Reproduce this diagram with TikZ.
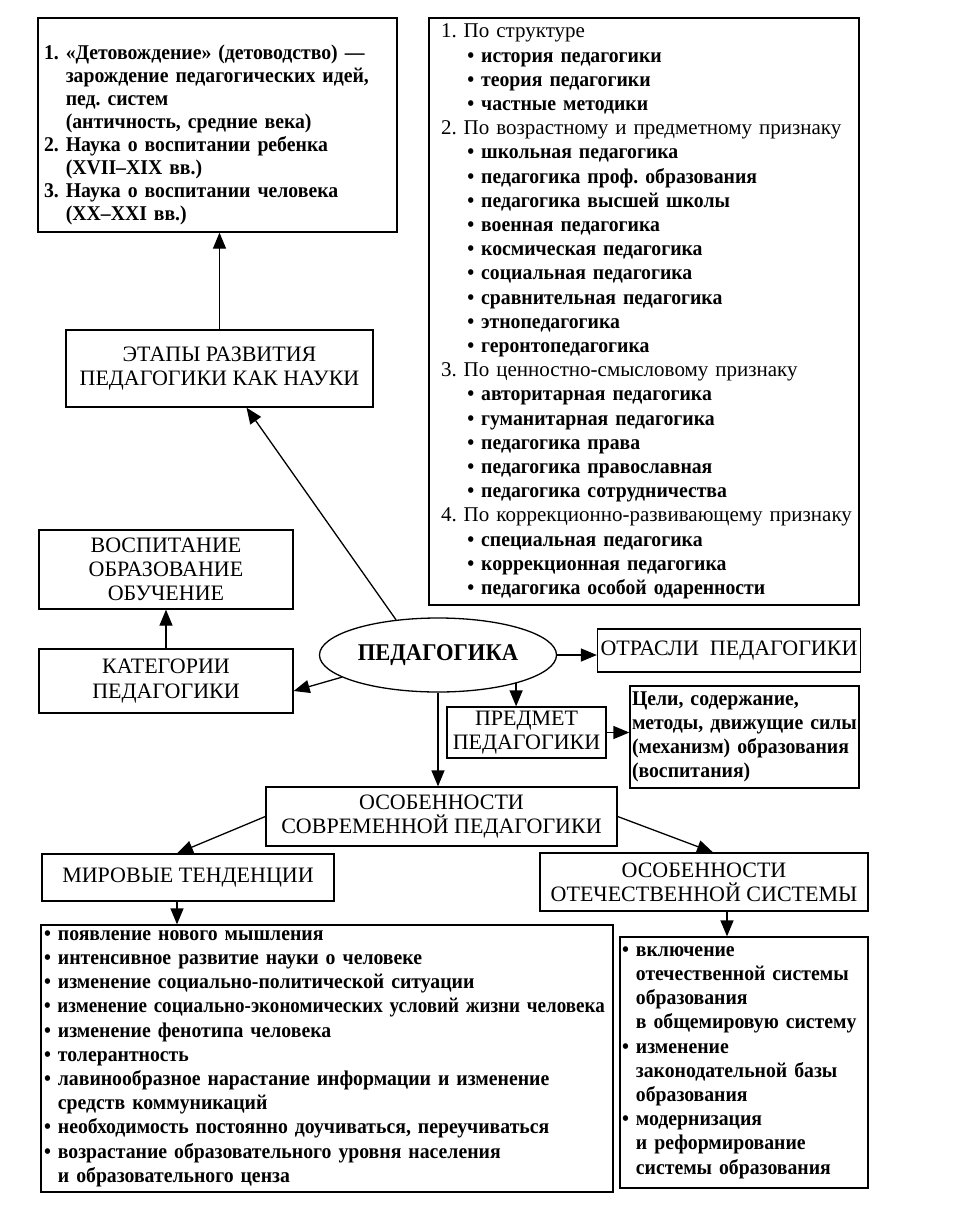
\documentclass[tikz,border=0pt]{standalone}
\usepackage{graphicx}
\usepackage{fontspec}
\setmainfont{Liberation Serif}[BoldFeatures={FakeStretch=0.94}]
\usetikzlibrary{shapes.geometric, arrows.meta}

\newcommand{\fsize}{\fontsize{21}{24.2}\selectfont\frenchspacing}
\newcommand{\headsize}{\fontsize{22}{24.2}\selectfont\frenchspacing}
\newcommand{\subpt}{\hspace*{1.25em}\textbullet\ }
\newcommand{\dotpt}{\textbullet\ }
\newcommand{\contpt}{\phantom{\textbullet\ }}
\newcommand{\contnum}{\phantom{1.\ }}

\tikzset{
	headbox/.style={draw, line width=1.3pt, inner sep=3pt, align=center, font=\headsize},
	listbox/.style={draw, line width=1.3pt, inner ysep=3pt, align=left, font=\fsize},
	link/.style={line width=1.3pt, -{Triangle[length=16pt,width=13pt]}},
}

\begin{document}
\begin{tikzpicture}[x=1pt, y={(0pt,-1pt)}]
	\useasboundingbox (0,0) rectangle (953,1213);
	% upper part
	\node (stages) at (217.5,125) [listbox, inner xsep=6pt, minimum width=359pt, minimum height=214pt, text width=347pt, font=\fontsize{21}{23}\selectfont\frenchspacing\bfseries] {%
		\rule{0pt}{34pt}1. «Детовождение» (детоводство) —\\
		\contnum зарождение педагогических идей,\\
		\contnum пед. систем\\
		\contnum (античность, средние века)\\
		2. Наука о воспитании ребенка\\
		\contnum (XVII–XIX вв.)\\
		3. Наука о воспитании человека\\
		\contnum (XX–XXI вв.)};
	\node (branches) at (644,311.5) [listbox, inner xsep=12pt, minimum width=430pt, minimum height=587pt, text width=406pt] {%
		1. По структуре\\
		\textbf{\subpt история педагогики}\\
		\textbf{\subpt теория педагогики}\\
		\textbf{\subpt частные методики}\\
		2. По возрастному и предметному признаку\\
		\textbf{\subpt школьная педагогика}\\
		\textbf{\subpt педагогика проф. образования}\\
		\textbf{\subpt педагогика высшей школы}\\
		\textbf{\subpt военная педагогика}\\
		\textbf{\subpt космическая педагогика}\\
		\textbf{\subpt социальная педагогика}\\
		\textbf{\subpt сравнительная педагогика}\\
		\textbf{\subpt этнопедагогика}\\
		\textbf{\subpt геронтопедагогика}\\
		3. По ценностно-смысловому признаку\\
		\textbf{\subpt авторитарная педагогика}\\
		\textbf{\subpt гуманитарная педагогика}\\
		\textbf{\subpt педагогика права}\\
		\textbf{\subpt педагогика православная}\\
		\textbf{\subpt педагогика сотрудничества}\\
		\mbox{4. По коррекционно-развивающему признаку}\\
		\textbf{\subpt специальная педагогика}\\
		\textbf{\subpt коррекционная педагогика}\\
		\textbf{\subpt педагогика особой одаренности}};
	\node (etapy) at (219.5,368.5) [headbox, minimum width=307pt, minimum height=77pt] {ЭТАПЫ РАЗВИТИЯ\\ПЕДАГОГИКИ КАК НАУКИ};
	\node (vosp) at (166,569.5) [headbox, minimum width=254pt, minimum height=79pt] {ВОСПИТАНИЕ\\ОБРАЗОВАНИЕ\\ОБУЧЕНИЕ};
	\node (kateg) at (166,681) [headbox, minimum width=254pt, minimum height=64pt] {КАТЕГОРИИ\\ПЕДАГОГИКИ};
	% centre
	\node (ped) at (438,655) [ellipse, draw, line width=1.3pt, inner sep=0pt, minimum width=237pt, minimum height=74pt, font=\fontsize{24}{26}\selectfont\bfseries] {ПЕДАГОГИКА};
	\node (otrasli) at (729,650.5) [headbox, minimum width=258pt, minimum height=43pt] {ОТРАСЛИ\ \ ПЕДАГОГИКИ};
	\node (predmet) at (526.5,732.5) [headbox, minimum width=159pt, minimum height=51pt] {ПРЕДМЕТ\\ПЕДАГОГИКИ};
	\node (goals) at (744.5,737) [listbox, inner xsep=2pt, minimum width=229pt, minimum height=102pt, text width=225pt, font=\fsize\bfseries] {%
		Цели, содержание,\\
		методы, движущие силы\\
		(механизм) образования\\
		(воспитания)};
	% lower part
	\node (osob) at (441.5,816.5) [headbox, minimum width=351pt, minimum height=59pt] {ОСОБЕННОСТИ\\СОВРЕМЕННОЙ ПЕДАГОГИКИ};
	\node (mir) at (188,877.5) [headbox, minimum width=292pt, minimum height=47pt] {МИРОВЫЕ ТЕНДЕНЦИИ};
	\node (otech) at (704,882) [headbox, minimum width=328pt, minimum height=58pt] {ОСОБЕННОСТИ\\ОТЕЧЕСТВЕННОЙ СИСТЕМЫ};
	\node (world) at (327,1058.5) [listbox, inner xsep=3pt, minimum width=572pt, minimum height=267pt, text width=566pt, font=\fsize\bfseries] {%
		\dotpt появление нового мышления\\
		\dotpt интенсивное развитие науки о человеке\\
		\dotpt изменение социально-политической ситуации\\
		\scalebox{0.965}[1]{\dotpt изменение социально-экономических условий жизни человека}\\
		\dotpt изменение фенотипа человека\\
		\dotpt толерантность\\
		\dotpt лавинообразное нарастание информации и изменение\\
		\contpt средств коммуникаций\\
		\dotpt необходимость постоянно доучиваться, переучиваться\\
		\dotpt возрастание образовательного уровня населения\\
		\contpt и образовательного ценза};
	\node (home) at (744,1062.5) [listbox, inner xsep=2pt, minimum width=248pt, minimum height=251pt, text width=244pt, font=\fsize\bfseries] {%
		\dotpt включение\\
		\contpt отечественной системы\\
		\contpt образования\\
		\contpt в общемировую систему\\
		\dotpt изменение\\
		\contpt законодательной базы\\
		\contpt образования\\
		\dotpt модернизация\\
		\contpt и реформирование\\
		\contpt системы образования};
	% connectors
	\draw[link] (etapy.north) -- (etapy.north |- stages.south);
	\draw[link] (ped.140) -- ([xshift=27pt]etapy.south);
	\draw[link] (kateg) -- (vosp);
	\draw[link] (ped.193) -- ([yshift=-10pt]kateg.east);
	\draw[link] (ped.east) -- (otrasli.west |- ped.east);
	\draw[link] (ped.-20) -- (ped.-20 |- predmet.north);
	\draw[link] (predmet.east) -- (predmet.east -| goals.west);
	\draw[link] (ped.south) -- (ped.south |- osob.north);
	\draw[link] (osob.west) -- ([xshift=-11pt]mir.north);
	\draw[link] (osob.east) -- ([xshift=9pt]otech.north);
	\draw[link] ([xshift=-11pt]mir.south) -- ([xshift=-11pt]mir.south |- world.north);
	\draw[link] ([xshift=23pt]otech.south) -- ([xshift=23pt]otech.south |- home.north);
\end{tikzpicture}
\end{document}
